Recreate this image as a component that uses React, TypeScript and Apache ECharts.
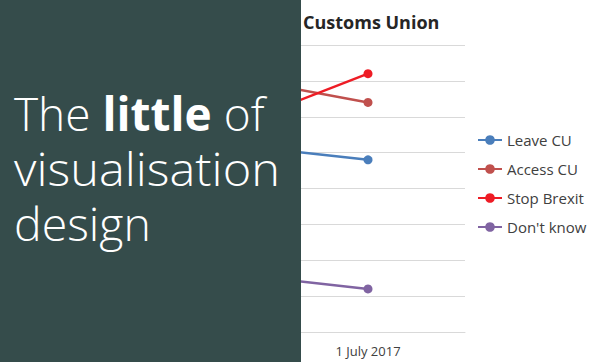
import React, { useEffect, useRef } from "react";
import * as echarts from "echarts";

const categories = ["Earlier poll", "1 July 2017"];
const seriesNames = ["Leave CU", "Access CU", "Stop Brexit", "Don't know"];
const leaveCU = [27, 24];
const accessCU = [37, 32];
const stopBrexit = [25.5, 36];
const dontKnow = [9, 6];
const colors = ["#4a7ebb", "#c0504d", "#ee1c25", "#8064a2"];
const yTicks = { min: 0, max: 40, interval: 5 };
const titleText = "Customs Union";
const panelLines = ["visualisation", "design"];

export default function App() {
  const ref = useRef<HTMLDivElement>(null);
  useEffect(() => {
    if (!ref.current) return;
    const chart = echarts.init(ref.current, undefined, { renderer: "svg" });
    const values = [leaveCU, accessCU, stopBrexit, dontKnow];
    const panelFont = "'Open Sans', 'Noto Sans', sans-serif";
    chart.setOption({
      animation: false,
      backgroundColor: "#ffffff",
      title: {
        text: titleText,
        left: 298,
        top: 8,
        textStyle: { fontSize: 18, fontWeight: "bold", color: "#262626", fontFamily: "'Open Sans', sans-serif" },
      },
      legend: {
        orient: "vertical",
        left: 472,
        top: 127.5,
        itemWidth: 24,
        itemHeight: 12,
        itemGap: 14,
        data: seriesNames,
        textStyle: { fontSize: 15, color: "#404040", fontFamily: "'Open Sans', sans-serif" },
      },
      grid: { left: 77, right: 135, top: 45, bottom: 30 },
      xAxis: {
        type: "category",
        data: categories,
        boundaryGap: true,
        axisLine: { lineStyle: { color: "#d9d9d9", width: 1 } },
        axisTick: { show: false },
        axisLabel: {
          margin: 12,
          fontSize: 13,
          color: "#404040",
          fontFamily: "'Open Sans', sans-serif",
          formatter: (v: string, i: number) => (i === categories.length - 1 ? v : ""),
        },
      },
      yAxis: {
        type: "value",
        min: yTicks.min,
        max: yTicks.max,
        interval: yTicks.interval,
        axisLabel: { show: false },
        axisLine: { show: false },
        axisTick: { show: false },
        splitLine: { lineStyle: { color: "#d9d9d9", width: 1 } },
      },
      series: seriesNames.map((name, i) => ({
        name,
        type: "line",
        data: values[i],
        symbol: "circle",
        symbolSize: 9,
        color: colors[i],
        lineStyle: { width: 2.5, color: colors[i] },
        itemStyle: { color: colors[i] },
      })),
      graphic: [
        {
          type: "rect",
          z: 100,
          shape: { x: 0, y: 0, width: 301, height: 362 },
          style: { fill: "#354c4b" },
        },
        {
          type: "text",
          z: 101,
          x: 14,
          y: 113,
          style: {
            text: "{a|The }{b|little}{a| of}",
            verticalAlign: "middle",
            rich: {
              a: { fontSize: 46, lineHeight: 50, fontWeight: 300, fill: "#ffffff", fontFamily: panelFont },
              b: { fontSize: 46, lineHeight: 50, fontWeight: "bold", fill: "#ffffff", fontFamily: panelFont },
            },
          },
        },
        ...panelLines.map((t, i) => ({
          type: "text",
          z: 101,
          x: 14,
          y: 168 + i * 56,
          scaleX: i === 0 ? 1.06 : 1.01,
          style: {
            text: t,
            verticalAlign: "middle",
            fontSize: 46,
            lineHeight: 50,
            fontWeight: 300,
            fill: "#ffffff",
            fontFamily: panelFont,
          },
        })),
      ],
    });
    return () => chart.dispose();
  }, []);
  return <div ref={ref} style={{ width: 600, height: 362, position: "absolute", left: 0, top: 0 }} />;
}
